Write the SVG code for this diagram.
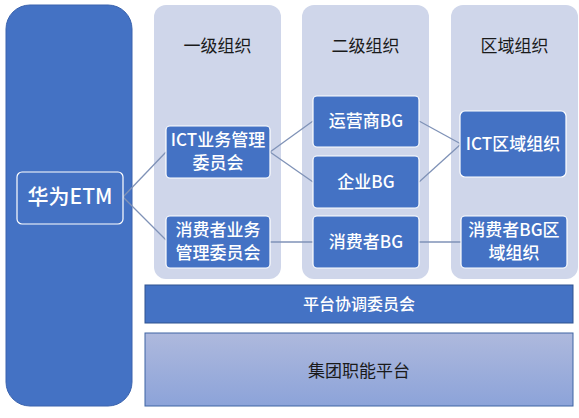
<svg xmlns="http://www.w3.org/2000/svg" width="579" height="418" viewBox="0 0 579 418">
<style>
.bg{fill:#CFD6EA}
.node{fill:#4472C4;stroke:#FFFFFF;stroke-width:1.2}
.wt{fill:#FFFFFF;font-family:"Noto Sans CJK SC","Liberation Sans",sans-serif;font-size:17px;font-weight:500;text-anchor:middle}
.hd{fill:#1A1A1A;font-family:"Noto Sans CJK SC","Liberation Sans",sans-serif;font-size:17px;text-anchor:middle}
.ln{stroke:#7F92B7;stroke-width:1.3;fill:none}
</style>
<defs>
<linearGradient id="gr" x1="0" y1="0" x2="0" y2="1">
<stop offset="0" stop-color="#AEB9DD"/>
<stop offset="1" stop-color="#8CA3D9"/>
</linearGradient>
</defs>
<rect width="579" height="418" fill="#FFFFFF"/>
<g id="etm-col">
<rect x="6" y="5" width="126" height="401" rx="24" fill="#4472C4" stroke="#3A63AE" stroke-width="1"/>
</g>
<g id="col1"><rect class="bg" x="154" y="5" width="127" height="274" rx="12"/><text class="hd" x="217.5" y="52">一级组织</text></g>
<g id="col2"><rect class="bg" x="302" y="5" width="127" height="274" rx="12"/><text class="hd" x="365.5" y="52">二级组织</text></g>
<g id="col3"><rect class="bg" x="451" y="5" width="127" height="274" rx="12"/><text class="hd" x="514.5" y="52">区域组织</text></g>
<g id="connectors">
<line class="ln" x1="123" y1="197" x2="166" y2="152"/>
<line class="ln" x1="123" y1="197" x2="166" y2="240"/>
<line class="ln" x1="270" y1="152" x2="313" y2="121"/>
<line class="ln" x1="270" y1="152" x2="313" y2="182"/>
<line class="ln" x1="419" y1="121" x2="461" y2="144"/>
<line class="ln" x1="419" y1="182" x2="461" y2="144"/>
<line class="ln" x1="270" y1="242" x2="313" y2="242"/>
<line class="ln" x1="419" y1="242" x2="461" y2="242"/>
</g>
<g id="etm"><rect class="node" x="17" y="172" width="106" height="52" rx="5"/><text class="wt" x="70" y="204" style="font-size:21px">华为ETM</text></g>
<g id="ict-mc"><rect class="node" x="166" y="126" width="104" height="52" rx="4"/><text class="wt" x="218" y="146">ICT业务管理</text><text class="wt" x="218" y="169">委员会</text></g>
<g id="cons-mc"><rect class="node" x="166" y="216" width="104" height="52" rx="4"/><text class="wt" x="218" y="236">消费者业务</text><text class="wt" x="218" y="259">管理委员会</text></g>
<g id="carrier"><rect class="node" x="313" y="96" width="106" height="51" rx="4"/><text class="wt" x="366" y="127">运营商BG</text></g>
<g id="enterprise"><rect class="node" x="313" y="156" width="106" height="52" rx="4"/><text class="wt" x="366" y="188">企业BG</text></g>
<g id="consumer"><rect class="node" x="313" y="216" width="106" height="52" rx="4"/><text class="wt" x="366" y="248">消费者BG</text></g>
<g id="ict-region"><rect class="node" x="460" y="111" width="106" height="66" rx="5"/><text class="wt" x="513" y="150">ICT区域组织</text></g>
<g id="cons-region"><rect class="node" x="461" y="216" width="106" height="52" rx="4"/><text class="wt" x="514" y="236">消费者BG区</text><text class="wt" x="514" y="259">域组织</text></g>
<g id="platform"><rect x="145" y="285" width="428" height="38" fill="#4472C4" stroke="#2F528F" stroke-width="1"/><text class="wt" x="359" y="310" style="font-size:16px">平台协调委员会</text></g>
<g id="group-func"><rect x="145" y="333" width="428" height="73" fill="url(#gr)" stroke="#3F64A3" stroke-width="1"/><text class="hd" x="359" y="377">集团职能平台</text></g>
</svg>
